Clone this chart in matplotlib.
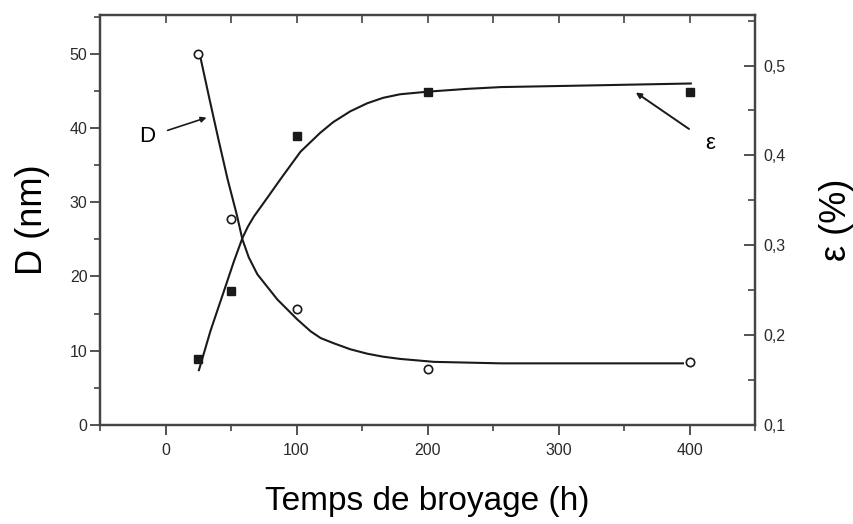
import matplotlib
matplotlib.use("Agg")
import matplotlib.pyplot as plt
from matplotlib.ticker import MultipleLocator, FuncFormatter

plt.rcParams['font.family'] = ['Liberation Sans', 'DejaVu Sans']

# measured points
t_pts = [25, 50, 100, 200, 400]
D_pts = [50.0, 27.7, 15.6, 7.5, 8.5]
eps_pts = [0.173, 0.249, 0.422, 0.471, 0.470]

# fitted curves
t_D_fit = [26.8, 33.7, 40.5, 47.4, 54.3, 58.7, 63.5, 70.1, 85.4, 100.7, 110.9, 118.5,
           128.5, 141, 154, 166, 179, 205, 256, 330, 395]
D_fit = [49.4, 43.8, 38.4, 33.1, 28.4, 25.0, 22.6, 20.3, 16.9, 14.2, 12.6, 11.7,
         11.0, 10.2, 9.6, 9.2, 8.9, 8.5, 8.3, 8.3, 8.3]
t_eps_fit = [25.5, 34.4, 44.6, 52.2, 58.7, 63.0, 67.5, 77.8, 88, 103, 118, 128, 141,
             154, 166, 179, 201, 230, 256, 330, 401]
eps_fit = [0.161, 0.205, 0.249, 0.282, 0.308, 0.321, 0.332, 0.353, 0.374, 0.404, 0.425,
           0.437, 0.449, 0.458, 0.464, 0.468, 0.471, 0.474, 0.476, 0.478, 0.480]

ink = '#1a1a1a'
tick_col = '#2a2a2a'

fig = plt.figure(figsize=(8.54, 5.24), dpi=100)
ax = fig.add_axes([0.1171, 0.189, 0.767, 0.782])
ax2 = ax.twinx()

ax.plot(t_D_fit, D_fit, color=ink, lw=1.5)
ax.plot(t_pts, D_pts, 'o', ms=6, mfc='white', mec=ink, mew=1.2)
ax2.plot(t_eps_fit, eps_fit, color=ink, lw=1.5)
ax2.plot(t_pts, eps_pts, 's', ms=5.5, mfc=ink, mec=ink)

ax.set_xlim(-50, 450)
ax.set_ylim(0, 55.2)
ax2.set_ylim(0.1, 0.556)

for a in (ax, ax2):
    for s in a.spines.values():
        s.set_linewidth(1.6)
        s.set_color('#444444')

ax.xaxis.set_major_locator(MultipleLocator(100))
ax.xaxis.set_minor_locator(MultipleLocator(50))
ax.yaxis.set_major_locator(MultipleLocator(10))
ax.yaxis.set_minor_locator(MultipleLocator(5))
ax.tick_params(axis='both', which='major', direction='out', length=7, width=1.3,
               color='#444444', labelsize=11.5, labelcolor=tick_col, pad=2)
ax.tick_params(axis='both', which='minor', direction='out', length=4, width=1.2,
               color='#444444')
ax.tick_params(axis='x', which='major', pad=6)

# ticks along the top edge point inward
top = ax.secondary_xaxis('top')
top.xaxis.set_major_locator(MultipleLocator(50))
top.tick_params(direction='in', length=6, width=1.2, color='#444444', labeltop=False)
top.spines['top'].set_visible(False)

ax2.yaxis.set_major_locator(MultipleLocator(0.1))
ax2.yaxis.set_minor_locator(MultipleLocator(0.05))
ax2.yaxis.set_major_formatter(FuncFormatter(lambda v, p: f"{v:.1f}".replace('.', ',')))
ax2.tick_params(axis='y', which='major', direction='in', length=8, width=1.3,
                color='#444444', labelsize=11.5, labelcolor=tick_col, pad=6)
ax2.tick_params(axis='y', which='minor', direction='in', length=5, width=1.2,
                color='#444444')

ax.set_xlabel('Temps de broyage (h)', fontsize=24, labelpad=20)
ax.set_ylabel('D (nm)', fontsize=26, labelpad=14)
ax2.set_ylabel('ε (%)', fontsize=26, rotation=90, labelpad=24)

ax.annotate('D', xy=(31.3, 41.4), xytext=(-13.7, 38.8), fontsize=16,
            ha='center', va='center',
            arrowprops=dict(arrowstyle='-|>', color=ink, lw=1.2, mutation_scale=8,
                            shrinkA=7, shrinkB=0))
ax2.annotate('ε', xy=(359, 0.470), xytext=(416, 0.413), fontsize=16,
             ha='center', va='center',
             arrowprops=dict(arrowstyle='-|>', color=ink, lw=1.4, mutation_scale=8,
                             shrinkA=12, shrinkB=0))

fig.savefig('out.png', dpi=100)
